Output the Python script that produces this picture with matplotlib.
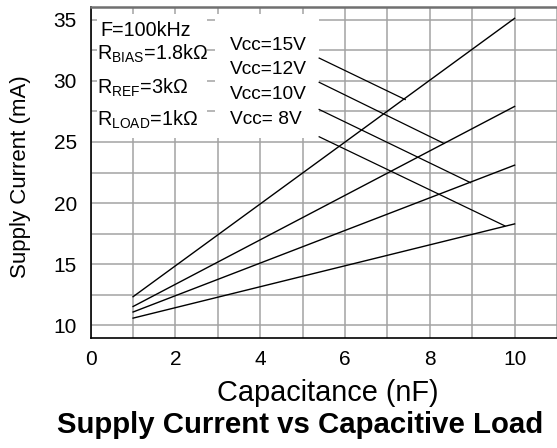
import matplotlib
matplotlib.use("Agg")
import matplotlib.pyplot as plt
from matplotlib.patches import Rectangle

plt.rcParams['font.family'] = ['Liberation Sans', 'DejaVu Sans']
plt.rcParams['mathtext.default'] = 'regular'

# data
capacitance = [1, 10]
vcc_labels = ["Vcc=15V", "Vcc=12V", "Vcc=10V", "Vcc= 8V"]
current_15v = [12.35, 35.1]
current_12v = [11.55, 27.9]
current_10v = [11.1, 23.1]
current_8v = [10.6, 18.3]
curves = [current_15v, current_12v, current_10v, current_8v]

# leader lines from the label block to each curve
leader_x0 = 5.39
leader_y0 = [31.85, 29.87, 27.65, 25.42]
leader_x1 = [7.42, 8.33, 8.96, 9.77]
leader_y1 = [28.46, 24.88, 21.67, 18.14]

cond_labels = ["F=100kHz", "R$_{BIAS}$=1.8k\u03a9", "R$_{REF}$=3k\u03a9", "R$_{LOAD}$=1k\u03a9"]

fig = plt.figure(figsize=(5.57, 4.48), dpi=100)
ax = fig.add_axes([0.1628, 0.2462, 0.8372, 0.7375])

ax.set_xlim(0, 10.92)
ax.set_ylim(9, 36)
ax.set_xticks([0, 2, 4, 6, 8, 10])
ax.set_yticks([10, 15, 20, 25, 30, 35])
ax.set_xticks(range(1, 12), minor=True)
ax.set_yticks([12.5, 17.5, 22.5, 27.5, 32.5], minor=True)
ax.tick_params(which='both', length=0, labelsize=15)
ax.tick_params(axis='y', pad=10)
ax.tick_params(axis='x', pad=9)
ax.grid(True, which='both', color='#a3a3a3', linewidth=1.1)
ax.set_axisbelow(True)

ax.spines['right'].set_visible(False)
ax.spines['top'].set_color('#707070')
ax.spines['top'].set_linewidth(1.8)
ax.spines['left'].set_linewidth(1.2)
ax.spines['bottom'].set_linewidth(1.2)

# white boxes behind the annotation text
ax.add_patch(Rectangle((0.16, 25.33), 2.58, 10.12, facecolor='white',
                       edgecolor='none', zorder=2))
ax.add_patch(Rectangle((2.93, 25.33), 2.46, 10.12, facecolor='white',
                       edgecolor='none', zorder=2))

for c in curves:
    ax.plot(capacitance, c, color='black', linewidth=1.0, zorder=3)

for i in range(4):
    ax.plot([leader_x0, leader_x1[i]], [leader_y0[i], leader_y1[i]],
            color='black', linewidth=0.9, zorder=3)

cond_x = [0.22, 0.15, 0.15, 0.15]
cond_y = [33.65, 31.68, 28.93, 26.35]
for txt, x, y in zip(cond_labels, cond_x, cond_y):
    ax.text(x, y, txt, fontsize=14.2, va='baseline', ha='left', zorder=4)

vcc_y = [32.5, 30.53, 28.48, 26.48]
for txt, y in zip(vcc_labels, vcc_y):
    ax.text(3.28, y, txt, fontsize=13.8, va='baseline', ha='left', zorder=4)

fig.text(21 / 557, 1 - 177 / 448, "Supply Current (mA)", fontsize=16,
         rotation=90, ha='center', va='center')
fig.text(328 / 557, 1 - 393 / 448, "Capacitance (nF)", fontsize=20.8,
         ha='center', va='center')
fig.text(300 / 557, 1 - 425 / 448, "Supply Current vs Capacitive Load",
         fontsize=21.2, fontweight='bold', ha='center', va='center')

fig.savefig("out.png", dpi=100)
